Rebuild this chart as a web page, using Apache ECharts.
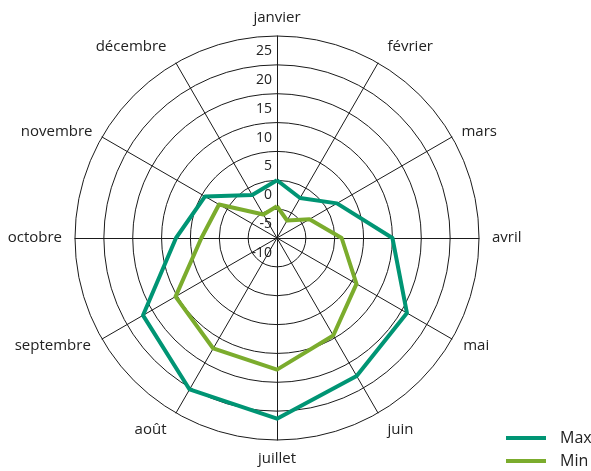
<!DOCTYPE html>
<html>
<head>
<meta charset="utf-8">
<script src="https://cdn.jsdelivr.net/npm/echarts@6/dist/echarts.min.js"></script>
<style>
  html, body { margin: 0; padding: 0; background: #fff; }
  #chart { width: 591px; height: 471px; }
</style>
</head>
<body>
<div id="chart"></div>
<script>
// mois, dans l'ordre du calendrier (sens horaire à partir du haut)
const months = ['janvier', 'février', 'mars', 'avril', 'mai', 'juin', 'juillet', 'août', 'septembre', 'octobre', 'novembre', 'décembre']
const maxTemp = [0, -2, 2, 10, 16, 17.6, 21.3, 20.3, 16.8, 7.5, 4.4, -1.4]
const minTemp = [-4.5, -6.5, -3.5, 1.2, 5.9, 9.5, 12.8, 12.1, 10.3, 3.1, 1.6, -5.3]
const axisMin = -10
const axisMax = 25
const axisStep = 5

// le radar tourne dans le sens anti-horaire : janvier en haut puis décembre, novembre...
const order = [0].concat(months.map((m, i) => 11 - i).slice(0, 11))
const pick = arr => order.map(i => arr[i])

// écart des noms de mois au cercle (les mois à 30° de la verticale sont plus loin)
const nameGaps = [11, 19, 11, 13, 13, 19, 11, 19, 13, 13, 11, 19]

let myChart = echarts.init(document.getElementById('chart'))

const font = '"Open Sans", "Noto Sans", sans-serif'

let option = {
  animation: false,
  legend: {
    orient: 'vertical',
    left: 506,
    top: 430,
    padding: 0,
    icon: 'rect',
    itemWidth: 40,
    itemHeight: 4,
    itemGap: 7,
    textStyle: { fontFamily: font, fontSize: 16, lineHeight: 16, color: '#222', padding: [0, 0, 0, 9] },
    data: ['Max', 'Min']
  },
  radar: {
    center: [277, 238],
    radius: 202,
    shape: 'circle',
    splitNumber: (axisMax - axisMin) / axisStep,
    nameGap: 11,
    axisName: { color: '#222', fontFamily: font, fontSize: 15 },
    axisLine: { lineStyle: { color: '#1a1a1a', width: 1 } },
    splitLine: { lineStyle: { color: '#1a1a1a', width: 1 } },
    splitArea: { show: false },
    axisTick: { show: false },
    axisLabel: { show: false },
    indicator: pick(months).map((m, i) => {
      let ind = { name: m, min: axisMin, max: axisMax, nameGap: pick(nameGaps)[i] }
      if (i === 0) {
        ind.axisLabel = {
          show: true,
          color: '#222',
          fontFamily: font,
          fontSize: 14,
          margin: 5,
          align: 'right',
          verticalAlign: 'top',
          padding: [8, 0, 0, 0]
        }
      }
      return ind
    })
  },
  series: [
    {
      type: 'radar',
      symbol: 'none',
      data: [
        {
          name: 'Max',
          value: pick(maxTemp),
          lineStyle: { color: '#009574', width: 4 },
          itemStyle: { color: '#009574' }
        },
        {
          name: 'Min',
          value: pick(minTemp),
          lineStyle: { color: '#7bac2d', width: 4 },
          itemStyle: { color: '#7bac2d' }
        }
      ]
    }
  ]
}
myChart.setOption(option)
</script>
</body>
</html>
